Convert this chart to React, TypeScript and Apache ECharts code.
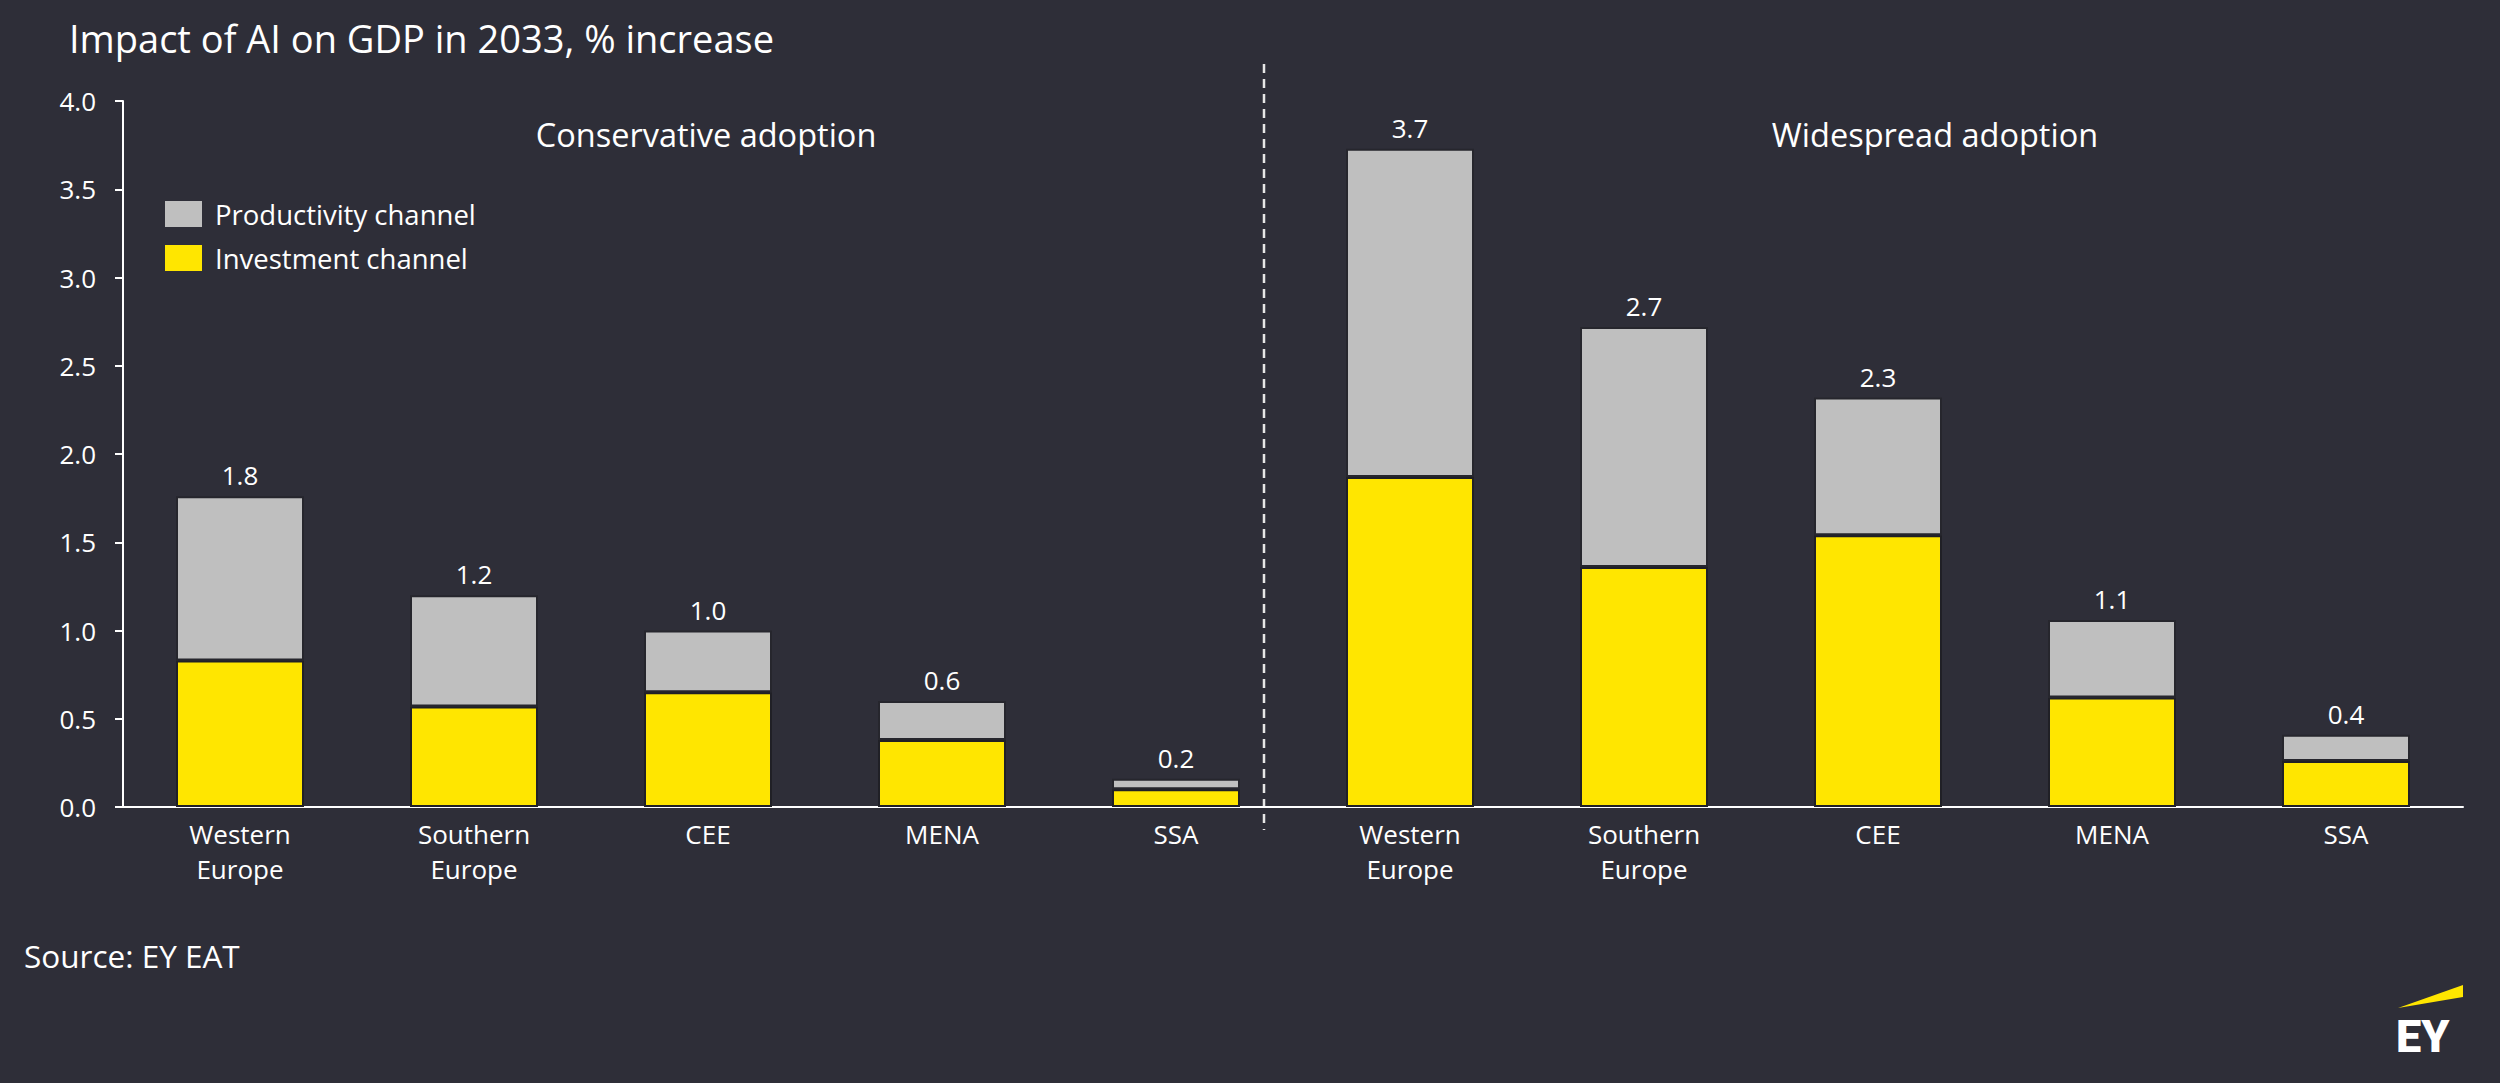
import React, { useEffect, useRef } from "react";
import * as echarts from "echarts";

const categories = [
  "Western\nEurope", "Southern\nEurope", "CEE", "MENA", "SSA",
  "Western\nEurope", "Southern\nEurope", "CEE", "MENA", "SSA",
];
const investment = [0.83, 0.57, 0.65, 0.38, 0.10, 1.87, 1.36, 1.54, 0.62, 0.26];
const productivity = [0.93, 0.63, 0.35, 0.22, 0.06, 1.86, 1.36, 0.78, 0.44, 0.15];
const totalLabels = ["1.8", "1.2", "1.0", "0.6", "0.2", "3.7", "2.7", "2.3", "1.1", "0.4"];
const groupTitles = ["Conservative adoption", "Widespread adoption"];
const seriesNames = ["Productivity channel", "Investment channel"];

const BG = "#2e2e38";
const YELLOW = "#ffe600";
const GREY = "#bfbfbf";
const FONT = "'Open Sans', Roboto, sans-serif";

export default function App() {
  const ref = useRef<HTMLDivElement>(null);
  useEffect(() => {
    document.body.style.margin = "0";
    document.body.style.background = BG;
    const chart = echarts.init(ref.current!, null, { renderer: "svg" });
    chart.setOption({
      animation: false,
      backgroundColor: BG,
      textStyle: { fontFamily: FONT },
      title: {
        text: "Impact of AI on GDP in 2033, % increase",
        left: 64,
        top: 14,
        textStyle: { color: "#ffffff", fontSize: 38, fontWeight: "normal", fontFamily: FONT },
      },
      legend: {
        orient: "vertical",
        left: 165,
        top: 200,
        padding: 0,
        itemWidth: 37,
        itemHeight: 26,
        itemGap: 16,
        icon: "rect",
        data: seriesNames,
        itemStyle: { borderWidth: 0 },
        textStyle: { color: "#ffffff", fontSize: 27.5, fontFamily: FONT, padding: [0, 0, 0, 8] },
      },
      grid: { left: 123, right: 37, top: 101, bottom: 276, containLabel: false },
      xAxis: {
        type: "category",
        data: categories,
        axisLine: { show: true, lineStyle: { color: "#ffffff", width: 2 } },
        axisTick: { show: false },
        axisLabel: {
          color: "#ffffff",
          fontSize: 26,
          lineHeight: 35,
          margin: 9,
          interval: 0,
          fontFamily: FONT,
        },
      },
      yAxis: {
        type: "value",
        min: 0,
        max: 4,
        interval: 0.5,
        splitLine: { show: false },
        axisLine: { show: true, lineStyle: { color: "#ffffff", width: 2 } },
        axisTick: { show: true, length: 8, lineStyle: { color: "#ffffff", width: 2 } },
        axisLabel: {
          color: "#ffffff",
          fontSize: 26,
          margin: 27,
          fontFamily: FONT,
          formatter: (v: number) => v.toFixed(1),
        },
      },
      series: [
        {
          name: seriesNames[1],
          type: "bar",
          stack: "total",
          barWidth: 128,
          data: investment,
          itemStyle: { color: YELLOW, borderColor: "#202026", borderWidth: 2 },
        },
        {
          name: seriesNames[0],
          type: "bar",
          stack: "total",
          barWidth: 128,
          data: productivity,
          itemStyle: { color: GREY, borderColor: "#26262d", borderWidth: 2 },
          label: {
            show: true,
            position: "top",
            distance: 8,
            color: "#ffffff",
            fontSize: 26,
            fontFamily: FONT,
            formatter: (p: any) => totalLabels[p.dataIndex],
          },
        },
      ],
      graphic: [
        {
          type: "text",
          x: 706,
          y: 134,
          style: {
            text: groupTitles[0],
            fill: "#ffffff",
            fontSize: 32.5,
            fontFamily: FONT,
            textAlign: "center",
            textVerticalAlign: "middle",
          },
        },
        {
          type: "text",
          x: 1935,
          y: 134,
          style: {
            text: groupTitles[1],
            fill: "#ffffff",
            fontSize: 32.5,
            fontFamily: FONT,
            textAlign: "center",
            textVerticalAlign: "middle",
          },
        },
        {
          type: "line",
          shape: { x1: 1264, y1: 64, x2: 1264, y2: 830 },
          style: { stroke: "#e6e6e6", lineWidth: 2.5, lineDash: [9, 6] },
        },
        {
          type: "text",
          x: 24,
          y: 955,
          style: {
            text: "Source: EY EAT",
            fill: "#ffffff",
            fontSize: 31.5,
            fontFamily: FONT,
            textAlign: "left",
            textVerticalAlign: "middle",
          },
        },
        {
          type: "polygon",
          shape: { points: [[2398, 1008], [2463, 985], [2463, 997]] },
          style: { fill: YELLOW },
        },
        {
          type: "text",
          x: 2396,
          y: 1036,
          style: {
            text: "EY",
            fill: "#ffffff",
            fontSize: 45,
            fontWeight: 900,
            fontFamily: "Roboto, sans-serif",
            textAlign: "left",
            textVerticalAlign: "middle",
          },
        },
      ],
    });
    return () => chart.dispose();
  }, []);
  return <div ref={ref} style={{ width: 2500, height: 1083 }} />;
}
